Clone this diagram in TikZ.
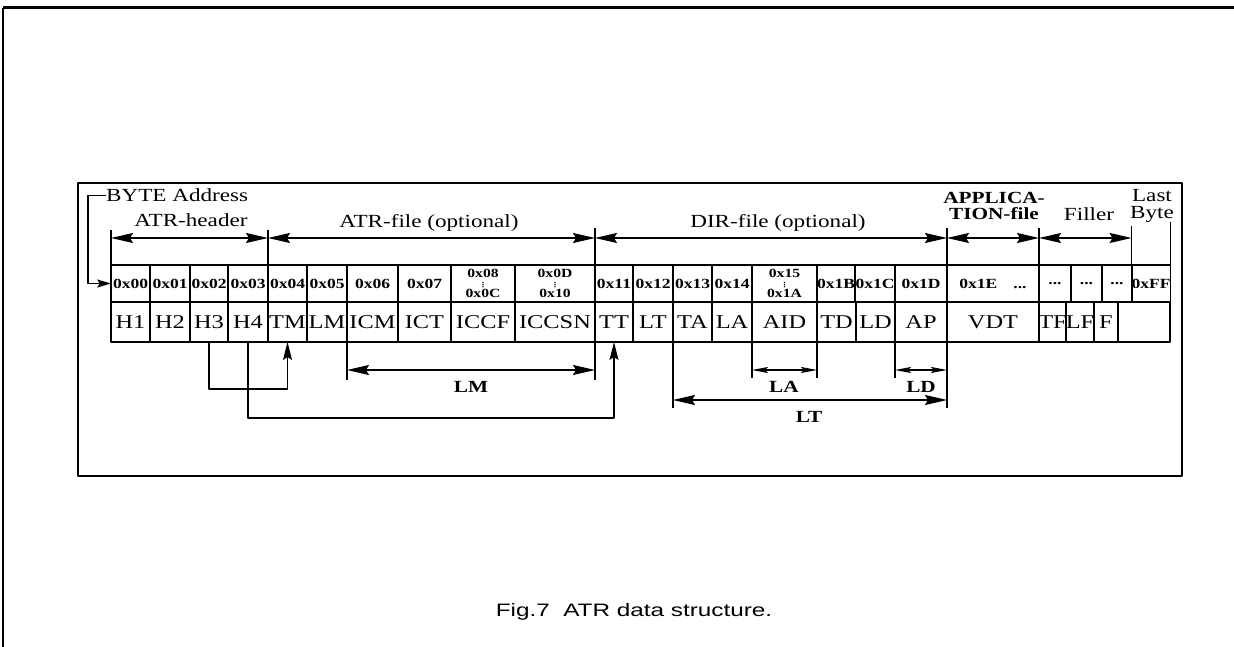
\documentclass[tikz,border=0pt]{standalone}
\usepackage{fontspec}
\setmainfont[FakeStretch=1.25]{Liberation Serif}
\newfontfamily\capfont[FakeStretch=1.35]{Liberation Sans}
\newfontfamily\symfont{DejaVu Sans}
\usetikzlibrary{arrows.meta}
\newcommand\adots{...}
\newcommand\twoaddr[2]{{\fontsize{12.5}{12}\selectfont #1}\\[-4pt]{\symfont\fontsize{7}{7}\selectfont ⋮}\\[-4pt]{\fontsize{12.5}{12}\selectfont #2}}
\tikzset{
  cellbox/.style={draw,line width=1.4pt,inner sep=0pt,outer sep=0pt,minimum height=37pt,align=center,
    font=\bfseries\fontsize{14}{14}\selectfont},
  namebox/.style={draw,line width=1.4pt,inner sep=0pt,outer sep=0pt,minimum height=40pt,
    font=\fontsize{19.5}{19}\selectfont},
  hdr/.style={font=\fontsize{18.5}{17}\selectfont,align=center,inner sep=0pt},
  dimlbl/.style={font=\bfseries\fontsize{17}{17}\selectfont,inner sep=0pt},
  span/.style={line width=1.4pt,{Stealth[length=22pt,width=10pt,inset=3pt]}-{Stealth[length=22pt,width=10pt,inset=3pt]}},
  smallspan/.style={line width=1.4pt,{Stealth[length=16pt,width=6pt,inset=3pt]}-{Stealth[length=16pt,width=6pt,inset=3pt]}},
  link/.style={line width=1.4pt,-{Stealth[length=18pt,width=9pt,inset=3pt]}},
  tick/.style={line width=1.3pt},
}
\begin{document}
\begin{tikzpicture}[x=1pt,y=-1pt,line join=round]
\useasboundingbox (0,0) rectangle (1234,647);
% frame
\draw[line width=3pt] (3,8) -- (1234,8);
\draw[line width=2pt] (3,8) -- (3,647);
\draw[line width=1.6pt] (78,183) rectangle (1182,476);

% address row
\foreach \l/\r/\txt/\nm in {111/150/0x00/a00,150/190/0x01/a01,190/228/0x02/a02,228/268/0x03/a03,
  268/307/0x04/a04,307/347/0x05/a05,347/398/0x06/a06,398/451/0x07/a07,
  451/515/{\twoaddr{0x08}{0x0C}}/a08,515/595/{\twoaddr{0x0D}{0x10}}/a0D,
  595/633/0x11/a11,633/673/0x12/a12,673/712/0x13/a13,712/752/0x14/a14,
  752/817/{\twoaddr{0x15}{0x1A}}/a15,817/855/0x1B/a1B,855/895/0x1C/a1C,895/947/0x1D/a1D,
  947/1039/{0x1E\hspace{16pt}\adots}/a1E,1039/1071/\adots/ax1,1071/1102/\adots/ax2,
  1102/1132/\adots/ax3,1132/1170/0xFF/aFF}
  \node[cellbox,minimum width={(\r-\l)*1pt}] (\nm) at ({(\l+\r)/2},283.5) {\txt};

% data row
\foreach \l/\r/\txt in {111/150/H1,150/190/H2,190/228/H3,228/268/H4,268/307/TM,307/347/LM,
  347/398/ICM,398/451/ICT,451/515/ICCF,515/595/ICCSN,595/633/TT,633/673/LT,673/712/TA,
  712/752/LA,752/817/AID,817/856/TD,856/895/LD,895/947/AP,947/1039/VDT,1039/1066/TF,
  1066/1094/LF,1094/1118/F}
  \node[namebox,minimum width={(\r-\l)*1pt}] (\txt) at ({(\l+\r)/2},322) {\txt};
\node[namebox,minimum width=52pt] (lastcell) at (1144,322) {};

% file boundaries
\draw[tick] (a00.north west) -- ++(0,-35);
\draw[tick] (a04.north west) -- ++(0,-35);
\draw[tick] (a11.north west) -- ++(0,-37);
\draw[tick] (a1E.north west) -- ++(0,-37);
\draw[tick] (ax1.north west) -- ++(0,-37);
\draw[tick] (aFF.north west) -- ++(0,-39);
\draw[tick] (aFF.north east) -- ++(0,-43);

\coordinate (spanY) at (0,238);
\draw[span] (a00.north west |- spanY) -- (a04.north west |- spanY);
\draw[span] (a04.north west |- spanY) -- (a11.north west |- spanY);
\draw[span] (a11.north west |- spanY) -- (a1E.north west |- spanY);
\draw[span] (a1E.north west |- spanY) -- (ax1.north west |- spanY);
\draw[span] (ax1.north west |- spanY) -- (aFF.north west |- spanY);

\node[hdr,anchor=base] (lblHead) at (191,226) {ATR-header};
\node[hdr,anchor=base] (lblAtr) at (429,227) {ATR-file (optional)};
\node[hdr,anchor=base] (lblDir) at (778,227) {DIR-file (optional)};
\node[hdr,font=\bfseries\fontsize{17}{16}\selectfont] (lblApp) at (994,206) {APPLICA-\\TION-file};
\node[hdr,anchor=base] (lblFill) at (1089,221) {Filler};
\node[hdr] (lblLast) at (1152,206) {Last\\Byte};

\node[hdr,anchor=base west] (lblByte) at (106,202) {BYTE Address};
\draw[line width=1.4pt,-{Stealth[length=14pt,width=8pt,inset=3pt]}] (lblByte.west) -- ++(-18,0) |- (a00.west);

% length pointers
\coordinate (lowA) at (0,389);
\coordinate (lowB) at (0,418);
\draw[link] (H3.south) -- (H3.south |- lowA) -| (TM.south);
\draw[link] (H4.south) -- (H4.south |- lowB) -| (TT.south);

% length spans
\coordinate (dimA) at (0,370);
\coordinate (dimB) at (0,400);
\draw[tick] (ICM.south west) -- ++(0,38);
\draw[tick] (ICCSN.south east) -- ++(0,38);
\draw[span] (ICM.south west |- dimA) -- (ICCSN.south east |- dimA);
\node[dimlbl] (lblLM) at (471,387) {LM};

\draw[tick] (AID.south west) -- ++(0,36);
\draw[tick] (AID.south east) -- ++(0,36);
\draw[smallspan] (AID.south west |- dimA) -- (AID.south east |- dimA);
\node[dimlbl] (lblLA) at (784,387) {LA};

\draw[tick] (AP.south west) -- ++(0,36);
\draw[tick] (AP.south east) -- ++(0,66);
\draw[smallspan] (AP.south west |- dimA) -- (AP.south east |- dimA);
\node[dimlbl] (lblLD) at (921,387) {LD};

\draw[tick] (TA.south west) -- ++(0,66);
\draw[span] (TA.south west |- dimB) -- (AP.south east |- dimB);
\node[dimlbl] (lblLT) at (809,417) {LT};

\node[font=\capfont\fontsize{18}{18}\selectfont] (caption) at (634,612) {Fig.7\ \ ATR data structure.};
\end{tikzpicture}
\end{document}
